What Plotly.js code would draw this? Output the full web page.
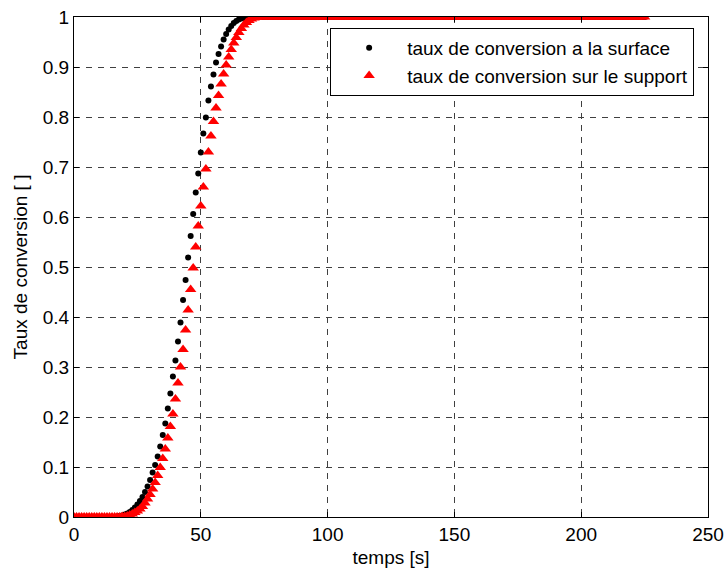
<!DOCTYPE html>
<html>
<head>
<meta charset="utf-8">
<script src="https://cdn.plot.ly/plotly-3.0.1.min.js"></script>
<style>html,body{margin:0;padding:0;background:#fff;}#chart{width:726px;height:571px;}</style>
</head>
<body>
<div id="chart"></div>
<script>
const tempsS = [
  0,1,2,3,4,5,6,7,8,9,10,11,12,13,14,15,16,17,18,19,
  20,21,22,23,24,25,26,27,28,29,30,31,32,33,34,35,36,37,38,39,
  40,41,42,43,44,45,46,47,48,49,50,51,52,53,54,55,56,57,58,59,
  60,61,62,63,64,65,66,67,68,69,70,71,72,73,74,75,76,77,78,79,
  80,81,82,83,84,85,86,87,88,89,90,91,92,93,94,95,96,97,98,99,
  100,101,102,103,104,105,106,107,108,109,110,111,112,113,114,115,116,117,118,119,
  120,121,122,123,124,125,126,127,128,129,130,131,132,133,134,135,136,137,138,139,
  140,141,142,143,144,145,146,147,148,149,150,151,152,153,154,155,156,157,158,159,
  160,161,162,163,164,165,166,167,168,169,170,171,172,173,174,175,176,177,178,179,
  180,181,182,183,184,185,186,187,188,189,190,191,192,193,194,195,196,197,198,199,
  200,201,202,203,204,205,206,207,208,209,210,211,212,213,214,215,216,217,218,219,
  220,221,222,223,224,225
];

// taux de conversion a la surface (t = 0 .. 225 s)
const tauxSurface = [
  0,0,0,0,0,0,0,0,0,0,0,0,0,0,0,0,0,
  0.001,0.002,0.003,0.005,0.007,0.010,0.014,0.019,0.025,0.032,
  0.040,0.050,0.061,0.074,0.089,0.104,0.121,0.141,0.164,0.187,
  0.217,0.247,0.281,0.313,0.351,0.389,0.434,0.474,0.519,0.562,
  0.606,0.649,0.687,0.729,0.767,0.799,0.833,0.861,0.885,0.909,
  0.926,0.941,0.955,0.966,0.975,0.982,0.988,0.992,0.995,0.997,
  0.998,0.999,
  1,1,1,1,1,1,1,1,1,1,1,1,1,1,1,1,1,1,1,1,
  1,1,1,1,1,1,1,1,1,1,1,1,1,1,1,1,1,1,1,1,
  1,1,1,1,1,1,1,1,1,1,1,1,1,1,1,1,1,1,1,1,
  1,1,1,1,1,1,1,1,1,1,1,1,1,1,1,1,1,1,1,1,
  1,1,1,1,1,1,1,1,1,1,1,1,1,1,1,1,1,1,1,1,
  1,1,1,1,1,1,1,1,1,1,1,1,1,1,1,1,1,1,1,1,
  1,1,1,1,1,1,1,1,1,1,1,1,1,1,1,1,1,1,1,1,
  1,1,1,1,1,1,1,1,1,1,1,1,1,1,1,1,1
];

// taux de conversion sur le support (t = 0 .. 225 s)
const tauxSupport = [
  0,0,0,0,0,0,0,0,0,0,0,0,0,0,0,0,0,0,0,
  0.001,0.001,0.002,0.004,0.006,0.009,0.012,0.016,0.021,0.028,
  0.036,0.045,0.056,0.069,0.083,0.099,0.117,0.136,0.158,0.181,
  0.206,0.236,0.268,0.300,0.335,0.374,0.414,0.455,0.498,0.540,
  0.582,0.622,0.660,0.696,0.730,0.762,0.791,0.818,0.843,0.866,
  0.886,0.904,0.920,0.935,0.948,0.959,0.969,0.977,0.984,0.989,
  0.993,0.996,0.998,0.999,
  1,1,1,1,1,1,1,1,1,1,1,1,1,1,1,1,1,1,1,1,
  1,1,1,1,1,1,1,1,1,1,1,1,1,1,1,1,1,1,1,1,
  1,1,1,1,1,1,1,1,1,1,1,1,1,1,1,1,1,1,1,1,
  1,1,1,1,1,1,1,1,1,1,1,1,1,1,1,1,1,1,1,1,
  1,1,1,1,1,1,1,1,1,1,1,1,1,1,1,1,1,1,1,1,
  1,1,1,1,1,1,1,1,1,1,1,1,1,1,1,1,1,1,1,1,
  1,1,1,1,1,1,1,1,1,1,1,1,1,1,1,1,1,1,1,1,
  1,1,1,1,1,1,1,1,1,1,1,1,1
];

const seriesNames = ['taux de conversion a la surface', 'taux de conversion sur le support'];
const xTicks = [0, 50, 100, 150, 200, 250];
const yTicks = [0, 0.1, 0.2, 0.3, 0.4, 0.5, 0.6, 0.7, 0.8, 0.9, 1];
const yTickText = ['0', '0.1', '0.2', '0.3', '0.4', '0.5', '0.6', '0.7', '0.8', '0.9', '1'];

const FONT = 'Liberation Sans, Arial, Helvetica, sans-serif';
const FS = 19;

const traces = [
  {
    x: tempsS, y: tauxSurface, type: 'scatter', mode: 'markers',
    name: seriesNames[0], legendgroup: 'a',
    marker: {symbol: 'circle', size: 6, color: '#000000', line: {width: 0}}
  },
  {
    x: tempsS, y: tauxSupport, type: 'scatter', mode: 'markers',
    name: seriesNames[1], legendgroup: 'b',
    marker: {symbol: 'triangle-up', size: 10, color: '#ff0000', line: {width: 0}}
  }
];

const axisCommon = {
  showline: true, linecolor: '#000', linewidth: 1, mirror: 'ticks',
  ticks: 'inside', ticklen: 5, tickcolor: '#000', tickwidth: 1,
  showgrid: true, gridcolor: '#404040', gridwidth: 1, griddash: '6px,6px',
  zeroline: false, tickfont: {family: FONT, size: FS, color: '#000'}
};

const layout = {
  width: 726, height: 571,
  margin: {l: 74, r: 18, t: 17, b: 54, pad: 0},
  paper_bgcolor: '#ffffff', plot_bgcolor: '#ffffff',
  font: {family: FONT, size: FS, color: '#000'},
  showlegend: true,
  xaxis: Object.assign({}, axisCommon, {
    range: [0, 250], tickvals: xTicks, ticktext: xTicks.map(String),
    title: {text: 'temps [s]', font: {family: FONT, size: FS, color: '#000'}, standoff: 6}
  }),
  yaxis: Object.assign({}, axisCommon, {
    range: [0, 1], tickvals: yTicks, ticktext: yTickText,
    title: {text: 'Taux de conversion [ ]', font: {family: FONT, size: FS, color: '#000'}, standoff: 10}
  }),
  legend: {
    x: 0.404, y: 0.978, xanchor: 'left', yanchor: 'top',
    bgcolor: '#ffffff', bordercolor: '#000', borderwidth: 1,
    font: {family: FONT, size: FS, color: '#000'},
    traceorder: 'grouped', tracegroupgap: 0, itemwidth: 66
  }
};

Plotly.newPlot('chart', traces, layout, {staticPlot: true, displayModeBar: false});
</script>
</body>
</html>
